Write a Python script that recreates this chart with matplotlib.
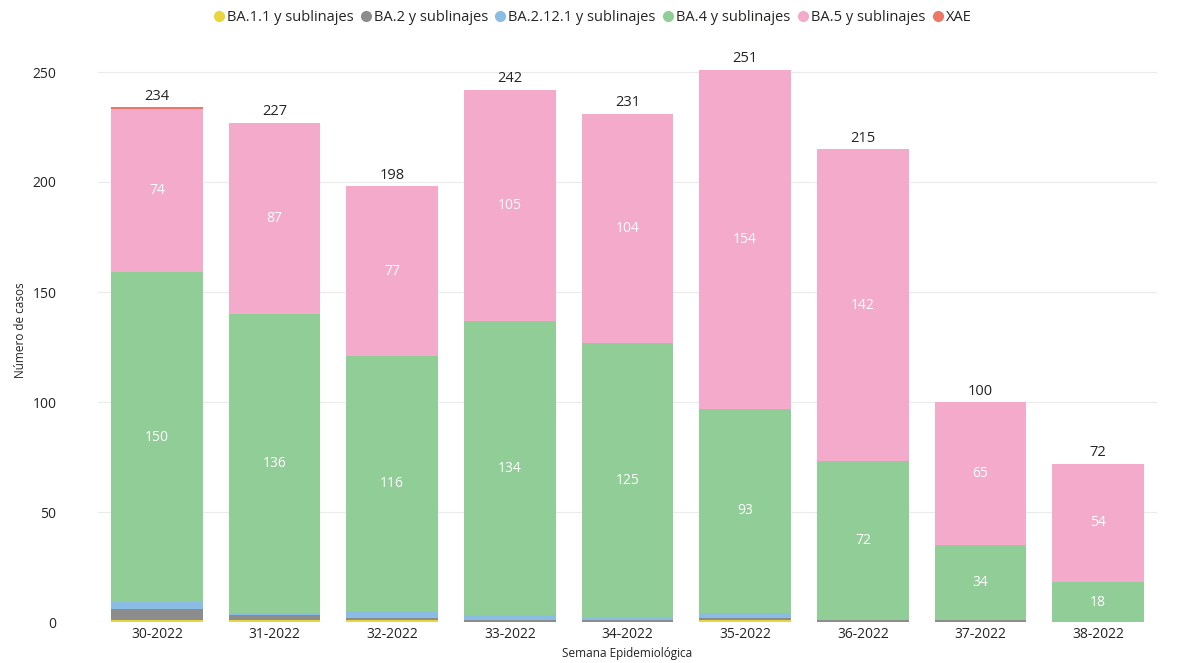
import numpy as np
import matplotlib.pyplot as plt
from matplotlib.lines import Line2D

plt.rcParams['font.family'] = ['Open Sans', 'DejaVu Sans']

# data
weeks = ['30-2022', '31-2022', '32-2022', '33-2022', '34-2022',
         '35-2022', '36-2022', '37-2022', '38-2022']
ba11 = [1, 1, 1, 0, 0, 1, 0, 0, 0]
ba2 = [5, 2, 1, 1, 1, 1, 1, 1, 0]
ba2121 = [3, 1, 3, 2, 1, 2, 0, 0, 0]
ba4 = [150, 136, 116, 134, 125, 93, 72, 34, 18]
ba5 = [74, 87, 77, 105, 104, 154, 142, 65, 54]
xae = [1, 0, 0, 0, 0, 0, 0, 0, 0]

series = [
    ('BA.1.1 y sublinajes', ba11, '#E8D63C'),
    ('BA.2 y sublinajes', ba2, '#8C8C8C'),
    ('BA.2.12.1 y sublinajes', ba2121, '#8ABCE4'),
    ('BA.4 y sublinajes', ba4, '#91CD97'),
    ('BA.5 y sublinajes', ba5, '#F4AACA'),
    ('XAE', xae, '#EE7667'),
]
labeled = ['BA.4 y sublinajes', 'BA.5 y sublinajes']

fig = plt.figure(figsize=(11.86, 6.63), dpi=100)
ax = fig.add_axes([98 / 1186, 41 / 663, 1059 / 1186, 583 / 663])

x = np.arange(len(weeks))
bottom = np.zeros(len(weeks))
for name, vals, col in series:
    vals = np.array(vals, dtype=float)
    ax.bar(x, vals, 0.78, bottom=bottom, color=col, zorder=2)
    if name in labeled:
        for i, v in enumerate(vals):
            if v > 0:
                ax.text(x[i], bottom[i] + v / 2, str(int(v)), ha='center',
                        va='center', color='white', fontsize=10, zorder=3)
    bottom += vals

for i, t in enumerate(bottom):
    ax.text(x[i], t + 1.5, str(int(t)), ha='center', va='bottom',
            color='#252423', fontsize=10.5)

ax.set_xlim(-0.5, len(weeks) - 0.5)
ax.set_ylim(0, 265)
ax.set_yticks([0, 50, 100, 150, 200, 250])
ax.set_xticks(x)
ax.set_xticklabels(weeks)
ax.tick_params(length=0, labelsize=10, colors='#252423')
ax.tick_params(axis='y', pad=30)
ax.grid(axis='y', color='#EBEBEB', linewidth=0.8, zorder=0)
for s in ax.spines.values():
    s.set_visible(False)
ax.set_xlabel('Semana Epidemiológica', fontsize=8.5, color='#252423', labelpad=4)
ax.set_ylabel('Número de casos', fontsize=8.5, color='#252423', labelpad=4)

handles = [Line2D([0], [0], marker='o', linestyle='', markersize=7,
                  markerfacecolor=c, markeredgecolor=c) for _, _, c in series]
fig.legend(handles, [n for n, _, _ in series], loc='upper center',
           bbox_to_anchor=(0.5, 1.005), ncol=6, frameon=False, fontsize=10.5,
           handlelength=0.6, handletextpad=0.25, columnspacing=0.55,
           labelcolor='#252423')

fig.savefig('out.png', dpi=100)
